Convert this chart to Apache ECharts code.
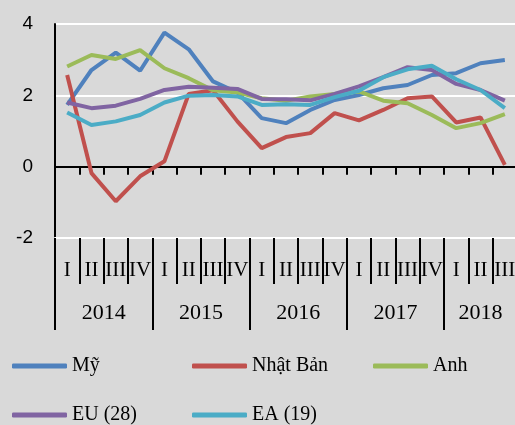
<!DOCTYPE html>
<html>
<head>
<meta charset="utf-8">
<script src="https://cdn.jsdelivr.net/npm/echarts@6/dist/echarts.min.js"></script>
<style>
	html, body { margin: 0; padding: 0; background: #d9d9d9; }
	#chart { width: 515px; height: 425px; }
</style>
</head>
<body>
<div id="chart"></div>
<script>
/*du lieu*/
var quarters = ['I', 'II', 'III', 'IV', 'I', 'II', 'III', 'IV', 'I', 'II', 'III', 'IV', 'I', 'II', 'III', 'IV', 'I', 'II', 'III'];
var years = ['2014', '2015', '2016', '2017', '2018'];
var yTicks = [-2, 0, 2, 4];

var my = [1.73, 2.71, 3.2, 2.69, 3.76, 3.29, 2.39, 2.08, 1.36, 1.22, 1.59, 1.87, 2.01, 2.2, 2.29, 2.57, 2.62, 2.9, 2.99];
var nhatBan = [2.57, -0.18, -0.97, -0.27, 0.15, 2.04, 2.14, 1.27, 0.52, 0.83, 0.94, 1.5, 1.3, 1.59, 1.92, 1.97, 1.24, 1.38, 0.05];
var anh = [2.81, 3.13, 3.02, 3.27, 2.76, 2.48, 2.14, 2.08, 1.92, 1.85, 1.97, 2.04, 2.11, 1.85, 1.78, 1.45, 1.08, 1.22, 1.47];
var eu28 = [1.8, 1.64, 1.71, 1.9, 2.15, 2.24, 2.21, 2.18, 1.9, 1.89, 1.86, 2.04, 2.25, 2.51, 2.79, 2.71, 2.32, 2.15, 1.85];
var ea19 = [1.52, 1.17, 1.27, 1.45, 1.8, 1.99, 2.01, 1.97, 1.73, 1.75, 1.73, 1.95, 2.13, 2.51, 2.73, 2.83, 2.45, 2.15, 1.64];

var names = ['Mỹ', 'Nhật Bản', 'Anh', 'EU (28)', 'EA (19)'];
var colors = ['#4f81bd', '#c0504d', '#9bbb59', '#8064a2', '#4bacc6'];
var values = [my, nhatBan, anh, eu28, ea19];

/*vi tri nam: bat dau o quy I*/
var yearStarts = [];
for(var i = 0; i < quarters.length; i++) {
	if(quarters[i] == 'I') {
		yearStarts.push(i);
	}
}
var yearCenters = [];
for(var k = 0; k < yearStarts.length; k++) {
	var end = k + 1 < yearStarts.length ? yearStarts[k + 1] : quarters.length;
	yearCenters.push((yearStarts[k] + end) / 2);
}
var quarterBounds = [];
for(var b = 0; b <= quarters.length; b++) {
	quarterBounds.push(b);
}

var serif = 'Liberation Serif';

var series = [];
for(var s = 0; s < names.length; s++) {
	series.push({
		name: names[s],
		type: 'line',
		data: values[s],
		symbol: 'none',
		color: colors[s],
		lineStyle: { width: 4, color: colors[s] },
		animation: false
	});
}

/*chu thich: moi muc mot legend de xep theo cot*/
var legendPos = [[12, 356], [192, 356], [373, 356], [12, 405], [192, 405]];
var legends = [];
for(var j = 0; j < names.length; j++) {
	legends.push({
		data: [names[j]],
		left: legendPos[j][0],
		top: legendPos[j][1],
		padding: 0,
		icon: 'roundRect',
		itemWidth: 55,
		itemHeight: 5,
		itemGap: 0,
		textStyle: { fontFamily: serif, fontSize: 20, color: '#000' },
		selectedMode: false
	});
}

var option = {
	backgroundColor: '#d9d9d9',
	animation: false,
	legend: legends,
	grid: {
		left: 55,
		top: 24,
		width: 462,
		height: 214,
		containLabel: false,
		outerBoundsMode: 'none'
	},
	xAxis: [{
		type: 'category',
		data: quarters,
		axisLine: { onZero: true, lineStyle: { color: '#000', width: 2 } },
		axisTick: { show: true, interval: 0, length: 8, lineStyle: { color: '#000', width: 2 } },
		axisLabel: { show: false },
		splitLine: { show: false }
	}, {
		type: 'category',
		data: quarters,
		position: 'bottom',
		axisLine: { show: true, onZero: false, lineStyle: { color: '#fff', width: 2 } },
		axisTick: { show: true, interval: 0, length: 46, lineStyle: { color: '#000', width: 2 } },
		axisLabel: { interval: 0, margin: 22, fontFamily: serif, fontSize: 21, color: '#000' },
		splitLine: { show: false }
	}, {
		type: 'value',
		min: 0,
		max: quarters.length,
		position: 'bottom',
		axisLine: { show: false, onZero: false },
		axisTick: { show: true, customValues: yearStarts, length: 92, lineStyle: { color: '#000', width: 2 } },
		axisLabel: {
			customValues: yearCenters,
			margin: 64,
			fontFamily: serif,
			fontSize: 22,
			color: '#000',
			formatter: function(v) {
				for(var n = 0; n < yearCenters.length; n++) {
					if(Math.abs(yearCenters[n] - v) < 0.01) {
						return years[n];
					}
				}
				return '';
			}
		},
		splitLine: { show: false }
	}, {
		/*vach ngan quy*/
		type: 'value',
		min: 0,
		max: quarters.length,
		position: 'bottom',
		axisLine: { show: false, onZero: false },
		axisTick: { show: true, customValues: quarterBounds, length: 46, lineStyle: { color: '#000', width: 2 } },
		axisLabel: { show: false },
		splitLine: { show: false }
	}],
	yAxis: {
		type: 'value',
		min: yTicks[0],
		max: yTicks[yTicks.length - 1],
		interval: yTicks[1] - yTicks[0],
		axisLine: { show: true, lineStyle: { color: '#000', width: 2 } },
		axisTick: { show: false },
		axisLabel: { margin: 22, fontFamily: 'Liberation Sans', fontSize: 19, color: '#000' },
		splitLine: { lineStyle: { color: '#fff', width: 2 } }
	},
	series: series
};

echarts.init(document.getElementById('chart')).setOption(option);
</script>
</body>
</html>
